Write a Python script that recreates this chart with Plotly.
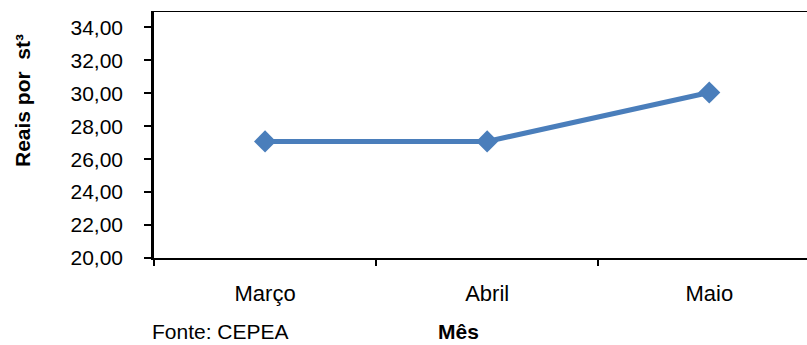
import plotly.graph_objects as go

months = ["Março", "Abril", "Maio"]
prices = [27.08, 27.08, 30.05]
y_ticks = [20, 22, 24, 26, 28, 30, 32, 34]
y_tick_text = ["20,00", "22,00", "24,00", "26,00", "28,00", "30,00", "32,00", "34,00"]

FONT = "Liberation Sans, Arial, sans-serif"
COLOR = "#4A7EBB"

fig = go.Figure()
fig.add_trace(go.Scatter(
    x=months, y=prices, mode="lines+markers",
    line=dict(color=COLOR, width=5),
    marker=dict(symbol="diamond", size=17, color=COLOR),
    showlegend=False, hoverinfo="skip",
))

fig.update_layout(
    width=807, height=345,
    margin=dict(l=154, r=0, t=11, b=87),
    paper_bgcolor="white", plot_bgcolor="white",
    font=dict(family=FONT, color="black", size=20),
    xaxis=dict(
        type="category", range=[-0.5, 2.44], tickson="boundaries",
        showline=True, linecolor="black", linewidth=2,
        ticks="outside", ticklen=6, tickcolor="black", tickwidth=1.5,
        showgrid=False, zeroline=False, mirror=False,
        tickfont=dict(size=22, family=FONT), ticklabelstandoff=15,
    ),
    yaxis=dict(
        range=[20, 35], tickvals=y_ticks, ticktext=y_tick_text,
        showline=True, linecolor="black", linewidth=2.5,
        ticks="outside", ticklen=7, tickcolor="black", tickwidth=1.5,
        showgrid=False, zeroline=False,
        tickfont=dict(size=21, family=FONT), ticklabelstandoff=17,
    ),
    shapes=[dict(type="line", xref="paper", yref="y", x0=0, x1=1, y0=35, y1=35,
                 line=dict(color="black", width=2))],
    annotations=[
        dict(text="<b>Reais por  st³</b>", xref="paper", yref="paper",
             x=-154/653 + 22/653, y=(258 - 101)/247, xanchor="center", yanchor="middle",
             textangle=-90, showarrow=False, font=dict(size=21, family=FONT)),
        dict(text="<b>Mês</b>", xref="paper", yref="paper",
             x=(458 - 154)/653, y=-86/247, xanchor="center", yanchor="bottom",
             borderpad=0, showarrow=False, font=dict(size=21, family=FONT)),
        dict(text="Fonte: CEPEA", xref="paper", yref="paper",
             x=(151 - 154)/653, y=-86/247, xanchor="left", yanchor="bottom",
             borderpad=0, showarrow=False, font=dict(size=21, family=FONT)),
    ],
)

fig.write_html("out.html")
